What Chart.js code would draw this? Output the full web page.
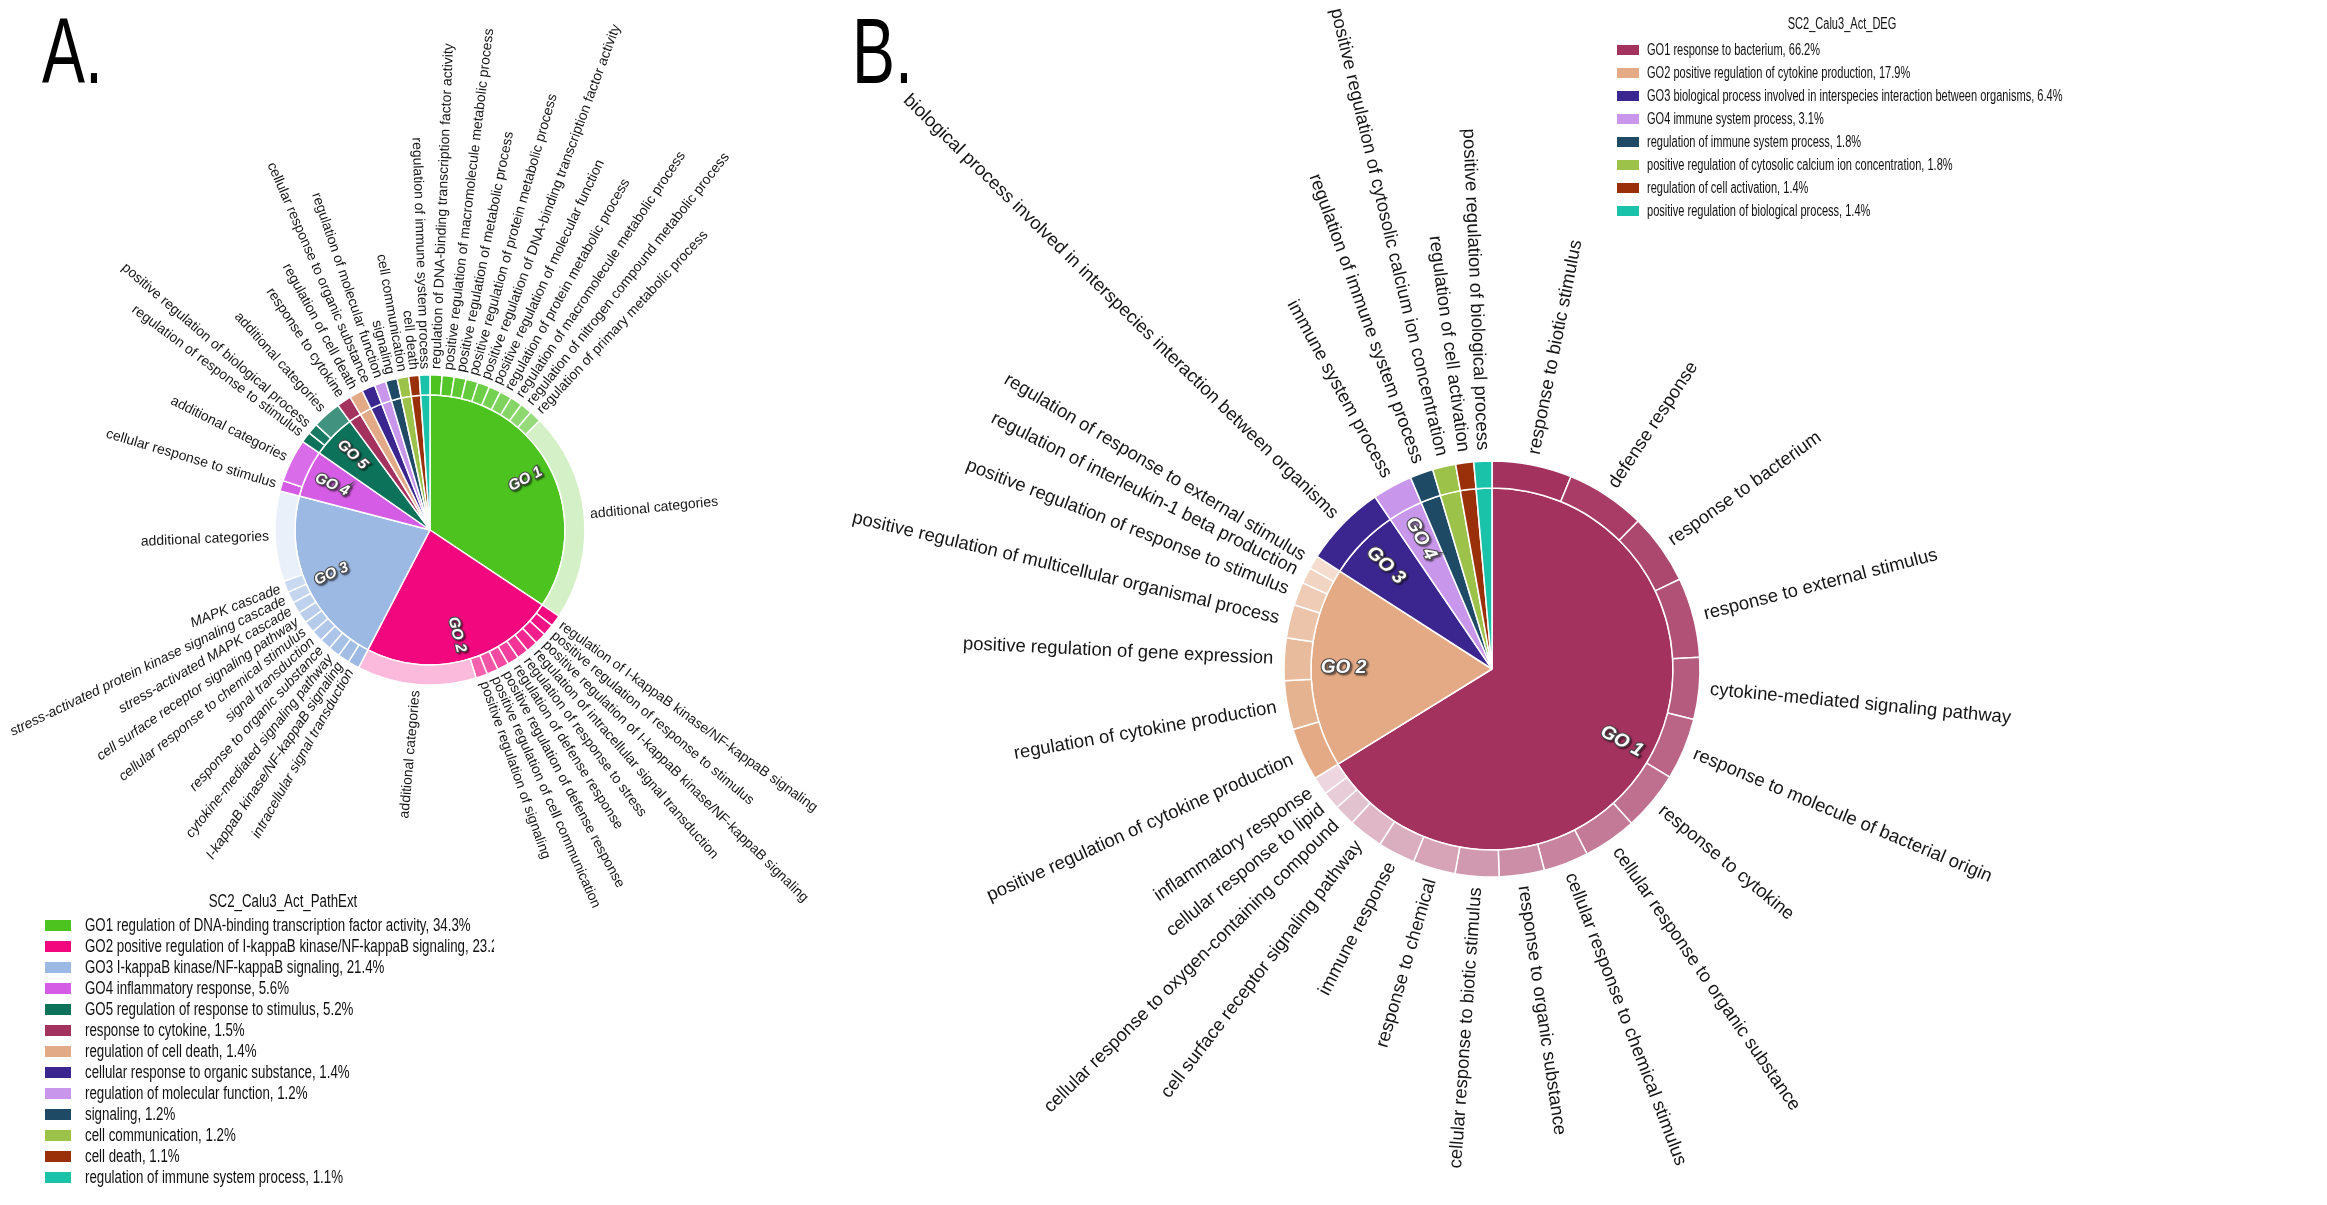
<!DOCTYPE html>
<html>
<head>
<meta charset="utf-8">
<script src="https://cdn.jsdelivr.net/npm/chart.js@4.4.1/dist/chart.umd.min.js"></script>
<style>
  html, body { margin: 0; padding: 0; background: #fff; }
  body { width: 2327px; height: 1205px; position: relative; overflow: hidden; font-family: 'Liberation Sans', Arial, sans-serif; }
  canvas { position: absolute; }
  .letter { position: absolute; font-size: 92px; line-height: 92px; color: #000; transform: scaleX(0.7); transform-origin: 0 0; }
  .legend { position: absolute; left: 0; top: 0; z-index: 2; color: #111; }
  .legend .title { position: absolute; white-space: nowrap; }
  .legend .row { position: absolute; white-space: nowrap; overflow: hidden; }
  .legend .box { position: absolute; }
  .legend .txt { position: absolute; white-space: nowrap; transform-origin: 0 50%; }
</style>
</head>
<body>
<div class="letter" style="left:42px; top:5px;">A.</div>
<div class="letter" style="left:852px; top:5px;">B.</div>
<canvas id="chartA" width="860" height="1205" style="left:0; top:0;"></canvas>
<canvas id="chartB" width="1507" height="1205" style="left:820px; top:0;"></canvas>
<div id="legendA" class="legend"></div>
<div id="legendB" class="legend"></div>
<script>
// ---------- panel A : SC2_Calu3_Act_PathExt ----------
const titleA = 'SC2_Calu3_Act_PathExt';
const goNamesA = [
    'GO1 regulation of DNA-binding transcription factor activity',
    'GO2 positive regulation of I-kappaB kinase/NF-kappaB signaling',
    'GO3 I-kappaB kinase/NF-kappaB signaling',
    'GO4 inflammatory response',
    'GO5 regulation of response to stimulus',
    'response to cytokine',
    'regulation of cell death',
    'cellular response to organic substance',
    'regulation of molecular function',
    'signaling',
    'cell communication',
    'cell death',
    'regulation of immune system process'
];
const goValuesA = [34.3, 23.2, 21.4, 5.6, 5.2, 1.5, 1.4, 1.4, 1.2, 1.2, 1.2, 1.1, 1.1];
const goTagsA = ['GO 1', 'GO 2', 'GO 3', 'GO 4', 'GO 5'];

// outer ring: sub categories, with the index of the GO slice they belong to
const subLabelsA = [
    'regulation of DNA-binding transcription factor activity',
    'positive regulation of macromolecule metabolic process',
    'positive regulation of metabolic process',
    'positive regulation of protein metabolic process',
    'positive regulation of DNA-binding transcription factor activity',
    'positive regulation of molecular function',
    'regulation of protein metabolic process',
    'regulation of macromolecule metabolic process',
    'regulation of nitrogen compound metabolic process',
    'regulation of primary metabolic process',
    'additional categories',
    'regulation of I-kappaB kinase/NF-kappaB signaling',
    'positive regulation of response to stimulus',
    'positive regulation of I-kappaB kinase/NF-kappaB signaling',
    'regulation of intracellular signal transduction',
    'regulation of response to stress',
    'regulation of defense response',
    'positive regulation of defense response',
    'positive regulation of cell communication',
    'positive regulation of signaling',
    'additional categories',
    'intracellular signal transduction',
    'I-kappaB kinase/NF-kappaB signaling',
    'cytokine-mediated signaling pathway',
    'response to organic substance',
    'signal transduction',
    'cellular response to chemical stimulus',
    'cell surface receptor signaling pathway',
    'stress-activated MAPK cascade',
    'stress-activated protein kinase signaling cascade',
    'MAPK cascade',
    'additional categories',
    'cellular response to stimulus',
    'additional categories',
    'regulation of response to stimulus',
    'positive regulation of biological process',
    'additional categories',
    'response to cytokine',
    'regulation of cell death',
    'cellular response to organic substance',
    'regulation of molecular function',
    'signaling',
    'cell communication',
    'cell death',
    'regulation of immune system process'
];
const subValuesA = [
    1.25, 1.25, 1.25, 1.25, 1.25, 1.25, 1.25, 1.25, 1.25, 1.25, 21.8,
    1.2, 1.2, 1.2, 1.2, 1.2, 1.2, 1.2, 1.2, 1.2, 12.4,
    1.2, 1.2, 1.2, 1.2, 1.2, 1.2, 1.2, 1.2, 1.2, 1.2, 9.4,
    1.1, 4.5,
    1.1, 1.1, 3.0,
    1.5, 1.4, 1.4, 1.2, 1.2, 1.2, 1.1, 1.1
];
const subGroupA = [
    0, 0, 0, 0, 0, 0, 0, 0, 0, 0, 0,
    1, 1, 1, 1, 1, 1, 1, 1, 1, 1,
    2, 2, 2, 2, 2, 2, 2, 2, 2, 2, 2,
    3, 3,
    4, 4, 4,
    5, 6, 7, 8, 9, 10, 11, 12
];

// ---------- panel B : SC2_Calu3_Act_DEG ----------
const titleB = 'SC2_Calu3_Act_DEG';
const goNamesB = [
    'GO1 response to bacterium',
    'GO2 positive regulation of cytokine production',
    'GO3 biological process involved in interspecies interaction between organisms',
    'GO4 immune system process',
    'regulation of immune system process',
    'positive regulation of cytosolic calcium ion concentration',
    'regulation of cell activation',
    'positive regulation of biological process'
];
const goValuesB = [66.2, 17.9, 6.4, 3.1, 1.8, 1.8, 1.4, 1.4];
const goTagsB = ['GO 1', 'GO 2', 'GO 3', 'GO 4'];

const subLabelsB = [
    'response to biotic stimulus',
    'defense response',
    'response to bacterium',
    'response to external stimulus',
    'cytokine-mediated signaling pathway',
    'response to molecule of bacterial origin',
    'response to cytokine',
    'cellular response to organic substance',
    'cellular response to chemical stimulus',
    'response to organic substance',
    'cellular response to biotic stimulus',
    'response to chemical',
    'immune response',
    'cell surface receptor signaling pathway',
    'cellular response to oxygen-containing compound',
    'cellular response to lipid',
    'inflammatory response',
    'positive regulation of cytokine production',
    'regulation of cytokine production',
    'positive regulation of gene expression',
    'positive regulation of multicellular organismal process',
    'positive regulation of response to stimulus',
    'regulation of interleukin-1 beta production',
    'regulation of response to external stimulus',
    'biological process involved in interspecies interaction between organisms',
    'immune system process',
    'regulation of immune system process',
    'positive regulation of cytosolic calcium ion concentration',
    'regulation of cell activation',
    'positive regulation of biological process'
];
const subValuesB = [
    6.2, 6.2, 5.5, 6.2, 4.8, 4.8, 4.6, 4.15, 3.5, 3.5, 3.4, 3.3, 2.9, 2.7, 1.65, 1.4, 1.4,
    4.1, 3.8, 3.3, 2.6, 1.8, 1.25, 1.05,
    6.4,
    3.1,
    1.8, 1.8, 1.4, 1.4
];
const subGroupB = [
    0, 0, 0, 0, 0, 0, 0, 0, 0, 0, 0, 0, 0, 0, 0, 0, 0,
    1, 1, 1, 1, 1, 1, 1,
    2,
    3,
    4, 5, 6, 7
];

// ---------- styles ----------
const goColorsA = ['#4DC320', '#F2077F', '#9CB9E3', '#D55CE5', '#0C735A', '#A3325E', '#E3AA88',
    '#3B2690', '#C896EB', '#1F4A66', '#9CC24A', '#9A3009', '#19C2A8'];
const goColorsB = ['#A3325E', '#E3AA85', '#3B2690', '#C896EB', '#1F4A66', '#9CC24A', '#9A3009', '#19C2A8'];
// [lightening step per sub segment, lightening of "additional categories"]
const tintsA = [[0.045, 0.75], [0.045, 0.72], [0.05, 0.78], [0, 0.1], [0.05, 0.22]];
const tintsB = [[0.05, 0], [0.1, 0]];

const lighten = (hex, t) => {
    const n = parseInt(hex.slice(1), 16);
    const c = [n >> 16, (n >> 8) & 255, n & 255].map(v => Math.round(v + (255 - v) * t));
    return `rgb(${c[0]},${c[1]},${c[2]})`;
};

const ringColors = (labels, groups, colors, tints) => {
    const seen = {};
    return labels.map((label, i) => {
        const g = groups[i];
        const k = seen[g] = (seen[g] === undefined ? 0 : seen[g] + 1);
        const tint = tints[g];
        if (!tint) return colors[g];
        if (label === 'additional categories') return lighten(colors[g], tint[1]);
        return lighten(colors[g], Math.min(tint[0] * k, 0.9));
    });
};

// labels along the radius of every ring segment + GO tags inside the pie
const radialLabels = {
    id: 'radialLabels',
    afterDatasetsDraw(chart, args, opts) {
        const ctx = chart.ctx;
        const outer = chart.getDatasetMeta(0);
        const inner = chart.getDatasetMeta(1);
        ctx.save();
        ctx.textBaseline = 'middle';
        ctx.fillStyle = '#161616';
        outer.data.forEach((arc, i) => {
            const text = opts.labels[i];
            const mid = (arc.startAngle + arc.endAngle) / 2;
            const r = arc.outerRadius + opts.gap;
            const italic = opts.italicGroup === opts.groups[i] && text !== 'additional categories' ? 'italic ' : '';
            ctx.font = `${italic}${opts.size}px "Liberation Sans", Arial, sans-serif`;
            ctx.save();
            ctx.translate(arc.x, arc.y);
            if (Math.cos(mid) >= -0.0001) {
                ctx.rotate(mid);
                ctx.textAlign = 'left';
                ctx.fillText(text, r, 0);
            } else {
                ctx.rotate(mid + Math.PI);
                ctx.textAlign = 'right';
                ctx.fillText(text, -r, 0);
            }
            ctx.restore();
        });

        ctx.font = `italic bold ${opts.tagSize}px "Liberation Sans", Arial, sans-serif`;
        ctx.textAlign = 'center';
        inner.data.forEach((arc, i) => {
            const tag = opts.tags[i];
            if (!tag) return;
            const mid = (arc.startAngle + arc.endAngle) / 2;
            const r = arc.outerRadius * opts.tagPos;
            ctx.save();
            ctx.translate(arc.x + Math.cos(mid) * r, arc.y + Math.sin(mid) * r);
            ctx.rotate(Math.cos(mid) >= 0 ? mid : mid + Math.PI);
            ctx.shadowColor = 'rgba(0,0,0,0.55)';
            ctx.shadowOffsetX = 1.5;
            ctx.shadowOffsetY = 1.5;
            ctx.shadowBlur = 1.5;
            ctx.lineWidth = 2.2;
            ctx.strokeStyle = '#4a4a4a';
            ctx.strokeText(tag, 0, 0);
            ctx.shadowColor = 'transparent';
            ctx.fillStyle = '#fff';
            ctx.fillText(tag, 0, 0);
            ctx.restore();
        });
        ctx.restore();
    }
};

const makeChart = (canvasId, setup) => new Chart(document.getElementById(canvasId), {
    type: 'doughnut',
    data: {
        labels: setup.subLabels,
        datasets: [{
            data: setup.subValues,
            backgroundColor: ringColors(setup.subLabels, setup.subGroups, setup.colors, setup.tints),
            borderColor: '#fff',
            borderWidth: 1.5,
            weight: setup.ring,
        }, {
            data: setup.values,
            backgroundColor: setup.colors,
            borderColor: '#fff',
            borderWidth: 1.5,
            weight: setup.radius - setup.ring,
        }]
    },
    options: {
        responsive: false,
        animation: false,
        cutout: 0,
        radius: setup.radius,
        layout: { padding: setup.padding },
        plugins: {
            legend: { display: false },
            tooltip: { enabled: false },
            radialLabels: {
                labels: setup.subLabels,
                groups: setup.subGroups,
                italicGroup: setup.italicGroup,
                tags: setup.tags,
                size: setup.fontSize,
                gap: setup.gap,
                tagSize: setup.tagSize,
                tagPos: setup.tagPos,
            }
        }
    },
    plugins: [radialLabels]
});

// legend, html; the reference uses a narrow face, so squeeze the regular one
const buildLegend = (el, title, names, values, colors, cfg) => {
    const squeeze = `transform: scaleX(${cfg.squeeze});`;
    let html = `<div class="title" style="left:${cfg.titleX}px; top:${cfg.titleY}px; font-size:${cfg.size}px; transform: translateX(-50%) scaleX(${cfg.squeeze});">${title}</div>`;
    names.forEach((name, i) => {
        const y = cfg.rowY + i * cfg.rowStep;
        html += `<div class="row" style="left:${cfg.x}px; top:${y - 12}px; width:${cfg.width}px; height:24px;">`
            + `<div class="box" style="left:0; top:${12 - cfg.boxH / 2}px; width:${cfg.boxW}px; height:${cfg.boxH}px; background:${colors[i]};"></div>`
            + `<div class="txt" style="left:${cfg.textDx}px; top:0; line-height:24px; font-size:${cfg.size}px; ${squeeze}">${name}, ${values[i]}%</div>`
            + `</div>`;
    });
    el.innerHTML = html;
};

makeChart('chartA', {
    subLabels: subLabelsA, subValues: subValuesA, subGroups: subGroupA,
    values: goValuesA, colors: goColorsA, tints: tintsA, tags: goTagsA,
    radius: 155, ring: 20,
    padding: { left: 275, right: 275, top: 375, bottom: 520 },
    fontSize: 14, gap: 6, italicGroup: 2, tagSize: 15, tagPos: 0.8,
});

makeChart('chartB', {
    subLabels: subLabelsB, subValues: subValuesB, subGroups: subGroupB,
    values: goValuesB, colors: goColorsB, tints: tintsB, tags: goTagsB,
    radius: 208, ring: 27,
    padding: { left: 464, right: 627, top: 461, bottom: 328 },
    fontSize: 18.5, gap: 11, italicGroup: -1, tagSize: 19, tagPos: 0.82,
});

buildLegend(document.getElementById('legendA'), titleA, goNamesA, goValuesA, goColorsA, {
    x: 45, width: 449, rowY: 925, rowStep: 21, size: 17.5, squeeze: 0.76, titleX: 283, titleY: 891,
    boxW: 26, boxH: 11, textDx: 40,
});
buildLegend(document.getElementById('legendB'), titleB, goNamesB, goValuesB, goColorsB, {
    x: 1617, width: 700, rowY: 50, rowStep: 23, size: 16, squeeze: 0.69, titleX: 1842, titleY: 15,
    boxW: 22, boxH: 10, textDx: 30,
});
</script>
</body>
</html>
